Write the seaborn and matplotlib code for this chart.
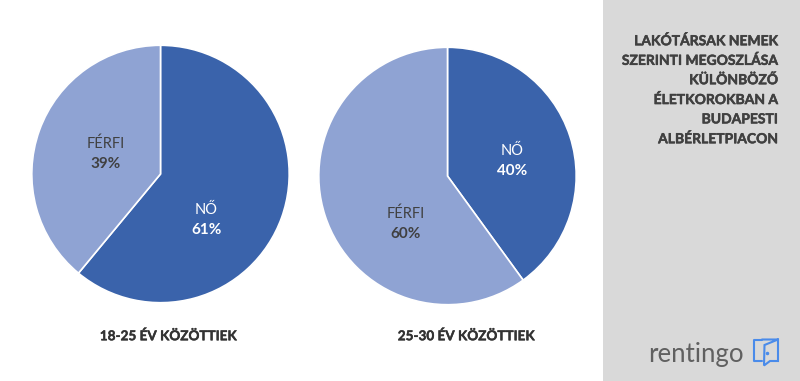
import matplotlib
matplotlib.use("Agg")
import matplotlib.pyplot as plt
import matplotlib.patheffects as pe
from matplotlib.patches import Rectangle
import seaborn as sns

# Data
genders_young = ["NŐ", "FÉRFI"]
shares_young = [61, 39]
genders_older = ["NŐ", "FÉRFI"]
shares_older = [40, 60]
age_labels = ["18-25 ÉV KÖZÖTTIEK", "25-30 ÉV KÖZÖTTIEK"]
title_lines = ["LAKÓTÁRSAK NEMEK", "SZERINTI MEGOSZLÁSA", "KÜLÖNBÖZŐ",
               "ÉLETKOROKBAN A", "BUDAPESTI", "ALBÉRLETPIACON"]

sns.set_theme(style="white")
plt.rcParams["font.family"] = ["Lato", "DejaVu Sans"]

W, H = 800, 381
colors = sns.color_palette(["#3A63AB", "#8FA3D3"])
dark = "#404040"
blue_logo = "#4A8BEA"
heavy = [pe.withStroke(linewidth=0.35, foreground=dark)]

fig = plt.figure(figsize=(W / 100, H / 100), dpi=100, facecolor="white")

# full figure overlay in pixel coords
bg = fig.add_axes([0, 0, 1, 1])
bg.set_xlim(0, W)
bg.set_ylim(H, 0)
bg.axis("off")
bg.add_patch(Rectangle((603, 0), 197, H, color="#D9D9D9", lw=0))


def draw_pie(cx, cy, r, values, names, text_pos):
    ax = fig.add_axes([(cx - r) / W, 1 - (cy + r) / H, 2 * r / W, 2 * r / H])
    ax.pie(values, colors=colors, startangle=90, counterclock=False, radius=1,
           wedgeprops={"edgecolor": "white", "linewidth": 1.2})
    ax.set_xlim(-1, 1)
    ax.set_ylim(-1, 1)
    ax.set_zorder(1)
    for name, val, (x, y), col in zip(names, values, text_pos, ["white", dark]):
        bg.text(x, y, name, color=col, fontsize=10.5, ha="center", va="center", zorder=5)
        bg.text(x, y + 20, f"{val}%", color=col, fontsize=11, fontweight="bold",
                ha="center", va="center", zorder=5)


draw_pie(160.5, 174, 128.7, shares_young, genders_young, [(206.5, 210), (106, 144)])
draw_pie(447.5, 176, 128.7, shares_older, genders_older, [(512.5, 151), (406, 214)])
bg.set_zorder(2)
bg.patch.set_alpha(0)

# Age captions
for x, label in zip([168.5, 466.5], age_labels):
    bg.text(x, 336, label, color="#333333", fontsize=9.75, fontweight="bold",
            ha="center", va="center",
            path_effects=[pe.withStroke(linewidth=0.3, foreground="#333333")])

# Side title
for i, line in enumerate(title_lines):
    bg.text(778, 41 + i * 19.6, line, color=dark, fontsize=10, fontweight="bold",
            ha="right", va="center", path_effects=heavy)

# Logo
bg.text(648, 354.5, "rentingo", color="#606060", fontsize=18.5, ha="left", va="center")
bg.plot([762, 754, 754, 762], [361, 361, 339.5, 339.5], color=blue_logo, lw=1.5)
bg.plot([762, 778, 778, 770, 764, 764.5, 778], [339.5, 339.5, 361, 361, 365.5, 345, 339.5],
        color=blue_logo, lw=1.5, solid_joinstyle="miter")
bg.plot([767], [353], marker="o", ms=1.5, color=blue_logo)

fig.savefig("out.png", dpi=100, facecolor="white")
